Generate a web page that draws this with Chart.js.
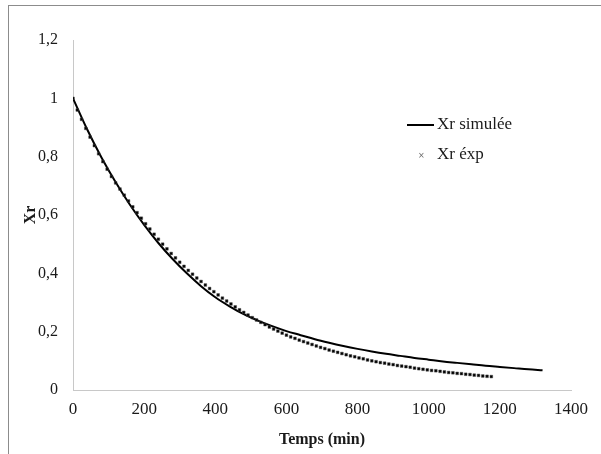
<!DOCTYPE html>
<html>
<head>
<meta charset="utf-8">
<script src="https://cdn.jsdelivr.net/npm/chart.js@4.4.1/dist/chart.umd.min.js"></script>
<style>
  body { margin: 0; background: #fff; overflow: hidden; }
  #wrap { position: relative; width: 601px; height: 454px; overflow: hidden; }
  #frame { position: absolute; left: 8px; top: 5px; width: 620px; height: 470px; border: 1px solid #8c8c8c; }
  canvas { position: absolute; left: 0; top: 0; }
  .leg { position: absolute; font-family: "Liberation Serif", serif; font-size: 17px; color: #1a1a1a; }
  .legline { position: absolute; left: 407px; top: 124px; width: 27px; height: 2px; background: #000; }
  .legmark { position: absolute; left: 418px; top: 152px; font-family: "DejaVu Sans", sans-serif; font-size: 8px; color: #666; line-height: 8px; }
</style>
</head>
<body>
<div id="wrap">
  <div id="frame"></div>
  <canvas id="chart" width="601" height="454"></canvas>
  <div class="legline"></div>
  <div class="leg" style="left:437px; top:114px;">Xr simulée</div>
  <div class="legmark">×</div>
  <div class="leg" style="left:437px; top:144px;">Xr éxp</div>
</div>
<script>
// simulated curve (time in min)
const simTime = [0, 40, 80, 120, 160, 200, 240, 280, 320, 360, 400, 440, 480, 520, 560, 600, 640,
  680, 720, 760, 800, 840, 880, 920, 960, 1000, 1040, 1080, 1120, 1160, 1200, 1240, 1280, 1320];
const simXr = [1.000, 0.893, 0.797, 0.712, 0.635, 0.566, 0.504, 0.449, 0.400, 0.356, 0.318, 0.287,
  0.260, 0.238, 0.219, 0.202, 0.188, 0.174, 0.162, 0.151, 0.141, 0.132, 0.124, 0.117, 0.110, 0.104,
  0.098, 0.093, 0.088, 0.083, 0.079, 0.075, 0.071, 0.068];

// experimental points, one every 12 min
const expTime = [0, 12, 24, 36, 48, 60, 72, 84, 96, 108, 120, 132, 144, 156, 168, 180, 192, 204, 216,
  228, 240, 252, 264, 276, 288, 300, 312, 324, 336, 348, 360, 372, 384, 396, 408, 420, 432, 444, 456,
  468, 480, 492, 504, 516, 528, 540, 552, 564, 576, 588, 600, 612, 624, 636, 648, 660, 672, 684, 696,
  708, 720, 732, 744, 756, 768, 780, 792, 804, 816, 828, 840, 852, 864, 876, 888, 900, 912, 924, 936,
  948, 960, 972, 984, 996, 1008, 1020, 1032, 1044, 1056, 1068, 1080, 1092, 1104, 1116, 1128, 1140,
  1152, 1164, 1176];
const expXr = [1.000, 0.960, 0.928, 0.897, 0.867, 0.838, 0.810, 0.783, 0.757, 0.732, 0.710, 0.689,
  0.668, 0.648, 0.628, 0.608, 0.589, 0.570, 0.552, 0.534, 0.517, 0.500, 0.484, 0.468, 0.453, 0.438,
  0.424, 0.410, 0.397, 0.384, 0.372, 0.360, 0.348, 0.337, 0.326, 0.315, 0.305, 0.295, 0.285, 0.275,
  0.266, 0.257, 0.248, 0.240, 0.232, 0.224, 0.216, 0.209, 0.202, 0.195, 0.188, 0.182, 0.177, 0.171,
  0.166, 0.161, 0.156, 0.151, 0.146, 0.142, 0.137, 0.133, 0.129, 0.125, 0.121, 0.117, 0.114, 0.110,
  0.107, 0.103, 0.100, 0.097, 0.094, 0.092, 0.089, 0.087, 0.084, 0.082, 0.080, 0.078, 0.075, 0.073,
  0.071, 0.069, 0.067, 0.066, 0.064, 0.062, 0.060, 0.059, 0.057, 0.056, 0.054, 0.053, 0.051, 0.050,
  0.048, 0.047, 0.046];

const xTicks = [0, 200, 400, 600, 800, 1000, 1200, 1400];
const yTicks = [0, 0.2, 0.4, 0.6, 0.8, 1, 1.2];

const family = '"Liberation Serif", serif';
const axisGrey = '#c8c8c8';
const textCol = '#1a1a1a';

new Chart(document.getElementById('chart').getContext('2d'), {
  type: 'scatter',
  data: {
    datasets: [
      {
        label: 'Xr simulée',
        data: simTime.map((t, i) => ({ x: t, y: simXr[i] })),
        showLine: true,
        borderColor: '#000',
        borderWidth: 2,
        pointRadius: 0,
        cubicInterpolationMode: 'monotone',
        order: 2
      },
      {
        label: 'Xr éxp',
        data: expTime.map((t, i) => ({ x: t, y: expXr[i] })),
        showLine: false,
        pointStyle: 'rect',
        pointRadius: 1.9,
        backgroundColor: '#000',
        borderColor: '#444',
        borderWidth: 0.5,
        order: 1
      }
    ]
  },
  options: {
    responsive: false,
    animation: false,
    layout: { padding: { left: 0, top: 40, right: 30, bottom: 0 } },
    plugins: { legend: { display: false }, tooltip: { enabled: false } },
    scales: {
      x: {
        type: 'linear',
        min: 0, max: 1400,
        afterBuildTicks: s => { s.ticks = xTicks.map(v => ({ value: v })); },
        afterFit: s => { s.height = 64; },
        grid: { display: false, drawTicks: false },
        border: { display: true, color: axisGrey, width: 1 },
        ticks: { font: { family: family, size: 17 }, color: textCol, padding: 9, maxRotation: 0,
          callback: v => String(v) },
        title: {
          display: true, text: 'Temps (min)',
          font: { family: family, size: 16, weight: 'bold' },
          color: textCol, padding: { top: 0, bottom: 5 }
        }
      },
      y: {
        min: 0, max: 1.2,
        afterBuildTicks: s => { s.ticks = yTicks.map(v => ({ value: v })); },
        afterFit: s => { s.width = 73; },
        grid: { display: false, drawTicks: false },
        border: { display: true, color: axisGrey, width: 1 },
        ticks: {
          font: { family: family, size: 16 }, color: textCol, padding: 15,
          callback: v => String(Math.round(v * 10) / 10).replace('.', ',')
        },
        title: {
          display: true, text: 'Xr',
          font: { family: family, size: 16, weight: 'bold' },
          color: textCol, padding: { top: 21, bottom: 0 }
        }
      }
    }
  }
});
</script>
</body>
</html>
